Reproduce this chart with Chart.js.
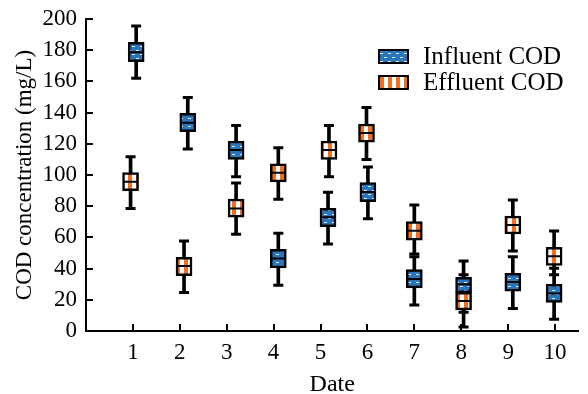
<!DOCTYPE html>
<html>
<head>
<meta charset="utf-8">
<script src="https://cdn.jsdelivr.net/npm/chart.js@4.4.1/dist/chart.umd.min.js"></script>
<style>
  html, body { margin: 0; padding: 0; background: #fff; }
  #wrap { position: relative; width: 588px; height: 394px; }
  .legend { position: absolute; left: 378px; font-family: 'Liberation Serif', 'Times New Roman', serif; font-size: 25px; color: #000; }
  .legend .row { display: flex; align-items: center; height: 26px; }
  .legend .sw { width: 31px; height: 15px; box-sizing: border-box; border: 2px solid #000; margin-right: 14px; }
</style>
</head>
<body>
<div id="wrap">
  <canvas id="codChart" width="588" height="394"></canvas>
  <div class="legend" style="top:43px">
    <div class="row"><div class="sw" id="swIn"></div>Influent COD</div>
    <div class="row"><div class="sw" id="swEff"></div>Effluent COD</div>
  </div>
</div>
<script>
// sampling days (tick labels) and where each box sits on the date axis
const days = [1, 2, 3, 4, 5, 6, 7, 8, 9, 10];
const influentX = [1.07, 2.17, 3.20, 4.10, 5.16, 6.01, 7.00, 8.05, 9.10, 9.98];
const effluentX = [0.95, 2.09, 3.20, 4.10, 5.18, 5.98, 7.00, 8.05, 9.10, 9.98];

// Influent COD (mg/L): whisker low, Q1, median, Q3, whisker high
const influentMin = [162, 116.7, 98.9, 29.3, 55.8, 72.0, 16.7, 12.0, 14.5, 7.5];
const influentQ1 = [172.6, 127.8, 110.0, 40.4, 66.9, 82.9, 27.6, 24.6, 25.6, 18.4];
const influentMed = [178.7, 133.5, 116.0, 46.4, 72.9, 89.1, 33.3, 29.9, 31.4, 24.1];
const influentQ3 = [185.0, 139.5, 121.8, 52.4, 78.6, 95.1, 39.3, 34.4, 37.0, 29.9];
const influentMax = [195.5, 149.6, 131.8, 62.6, 88.9, 105.1, 47.6, 44.9, 47.6, 40.2];

// Effluent COD (mg/L)
const effluentMin = [78.6, 24.6, 62.0, 84.4, 98.9, 110.0, 49.4, 2.6, 51.3, 36.0];
const effluentQ1 = [89.9, 35.5, 72.9, 95.5, 110.0, 121.0, 58.3, 13.5, 62.2, 42.1];
const effluentMed = [95.7, 41.7, 78.6, 101.5, 116.0, 126.9, 64.3, 19.2, 67.9, 47.9];
const effluentQ3 = [101.5, 47.2, 84.6, 107.2, 121.8, 132.7, 70.1, 24.8, 73.7, 53.6];
const effluentMax = [111.7, 57.7, 94.9, 117.5, 131.8, 143.2, 80.8, 36.0, 84.0, 64.1];

const yTicks = [0, 20, 40, 60, 80, 100, 120, 140, 160, 180, 200];

const BLUE = '#2b76bd';
const ORANGE = '#f07020';
const FONT = "'Liberation Serif', 'Times New Roman', serif";

function makeTile(kind) {
    const c = document.createElement('canvas');
    const g = c.getContext('2d');
    if (kind === 'in') {
        c.width = 8; c.height = 8;
        g.fillStyle = BLUE; g.fillRect(0, 0, 8, 8);
        g.fillStyle = 'rgba(255,255,255,0.9)';
        g.fillRect(0, 2, 3, 1);
        g.fillRect(4, 6, 3, 1);
    } else {
        c.width = 8; c.height = 4;
        g.fillStyle = ORANGE; g.fillRect(0, 0, 4, 4);
        g.fillStyle = '#ffffff'; g.fillRect(4, 0, 4, 4);
    }
    return c;
}
const tileIn = makeTile('in');
const tileEff = makeTile('eff');
document.getElementById('swIn').style.background = 'url(' + tileIn.toDataURL() + ')';
document.getElementById('swEff').style.background = 'url(' + tileEff.toDataURL() + ')';

const ctx = document.getElementById('codChart').getContext('2d');
const patIn = ctx.createPattern(tileIn, 'repeat');
const patEff = ctx.createPattern(tileEff, 'repeat');

const pts = (xs, ys) => xs.map((x, i) => ({ x: x, y: ys[i] }));
const ranges = (xs, lo, hi) => xs.map((x, i) => ({ x: x, y: [lo[i], hi[i]] }));

function seriesSets(xs, mn, q1, md, q3, mx, fill) {
    return [
        { type: 'bar', data: ranges(xs, mn, mx), backgroundColor: '#000', barThickness: 3,
          grouped: false, borderWidth: 0, order: 4 },
        { type: 'scatter', data: pts(xs, mx), pointStyle: 'line', pointRadius: 5, borderWidth: 3,
          borderColor: '#000', order: 3 },
        { type: 'scatter', data: pts(xs, mn), pointStyle: 'line', pointRadius: 5, borderWidth: 3,
          borderColor: '#000', order: 3 },
        { type: 'bar', data: ranges(xs, q1, q3), backgroundColor: fill, borderColor: '#000',
          borderWidth: 2.5, borderSkipped: false, barThickness: 16, grouped: false, order: 2 },
        { type: 'scatter', data: pts(xs, md), pointStyle: 'line', pointRadius: 7.5, borderWidth: 2,
          borderColor: '#000', order: 1 }
    ];
}

// inward tick marks on the left and bottom axes
const inwardTicks = {
    id: 'inwardTicks',
    afterDraw(chart) {
        const { ctx, chartArea, scales } = chart;
        ctx.save();
        ctx.strokeStyle = '#000';
        ctx.lineWidth = 2;
        scales.x.ticks.forEach(t => {
            const px = Math.round(scales.x.getPixelForValue(t.value));
            ctx.beginPath();
            ctx.moveTo(px, chartArea.bottom);
            ctx.lineTo(px, chartArea.bottom - 7);
            ctx.stroke();
        });
        scales.y.ticks.forEach(t => {
            const py = Math.round(scales.y.getPixelForValue(t.value));
            ctx.beginPath();
            ctx.moveTo(chartArea.left, py);
            ctx.lineTo(chartArea.left + 7, py);
            ctx.stroke();
        });
        ctx.restore();
    }
};

new Chart(ctx, {
    type: 'bar',
    data: {
        datasets: [
            ...seriesSets(effluentX, effluentMin, effluentQ1, effluentMed, effluentQ3, effluentMax, patEff),
            ...seriesSets(influentX, influentMin, influentQ1, influentMed, influentQ3, influentMax, patIn)
        ]
    },
    options: {
        responsive: false,
        animation: false,
        devicePixelRatio: 1,
        layout: { padding: { top: 19, right: 0, left: 0, bottom: 0 } },
        plugins: {
            legend: { display: false },
            tooltip: { enabled: false }
        },
        scales: {
            x: {
                type: 'linear',
                min: 0,
                max: 10.5,
                offset: false,
                afterBuildTicks: s => { s.ticks = days.map(d => ({ value: d })); },
                afterFit: s => { s.height = 63; },
                grid: { display: false },
                border: { display: true, color: '#000', width: 2 },
                ticks: { color: '#000', font: { family: FONT, size: 23 }, padding: 0, maxRotation: 0 },
                title: { display: true, text: 'Date', color: '#000',
                         font: { family: FONT, size: 24, lineHeight: 0.8 }, padding: 0 }
            },
            y: {
                min: 0,
                max: 200,
                afterBuildTicks: s => { s.ticks = yTicks.map(v => ({ value: v })); },
                afterFit: s => { s.width = 86; },
                grid: { display: false },
                border: { display: true, color: '#000', width: 2 },
                ticks: { color: '#000', font: { family: FONT, size: 23, lineHeight: 1 }, padding: 1 },
                title: { display: true, text: 'COD concentration (mg/L)', color: '#000',
                         font: { family: FONT, size: 23 }, padding: { top: 11, bottom: 0 } }
            }
        }
    },
    plugins: [inwardTicks]
});
</script>
</body>
</html>
